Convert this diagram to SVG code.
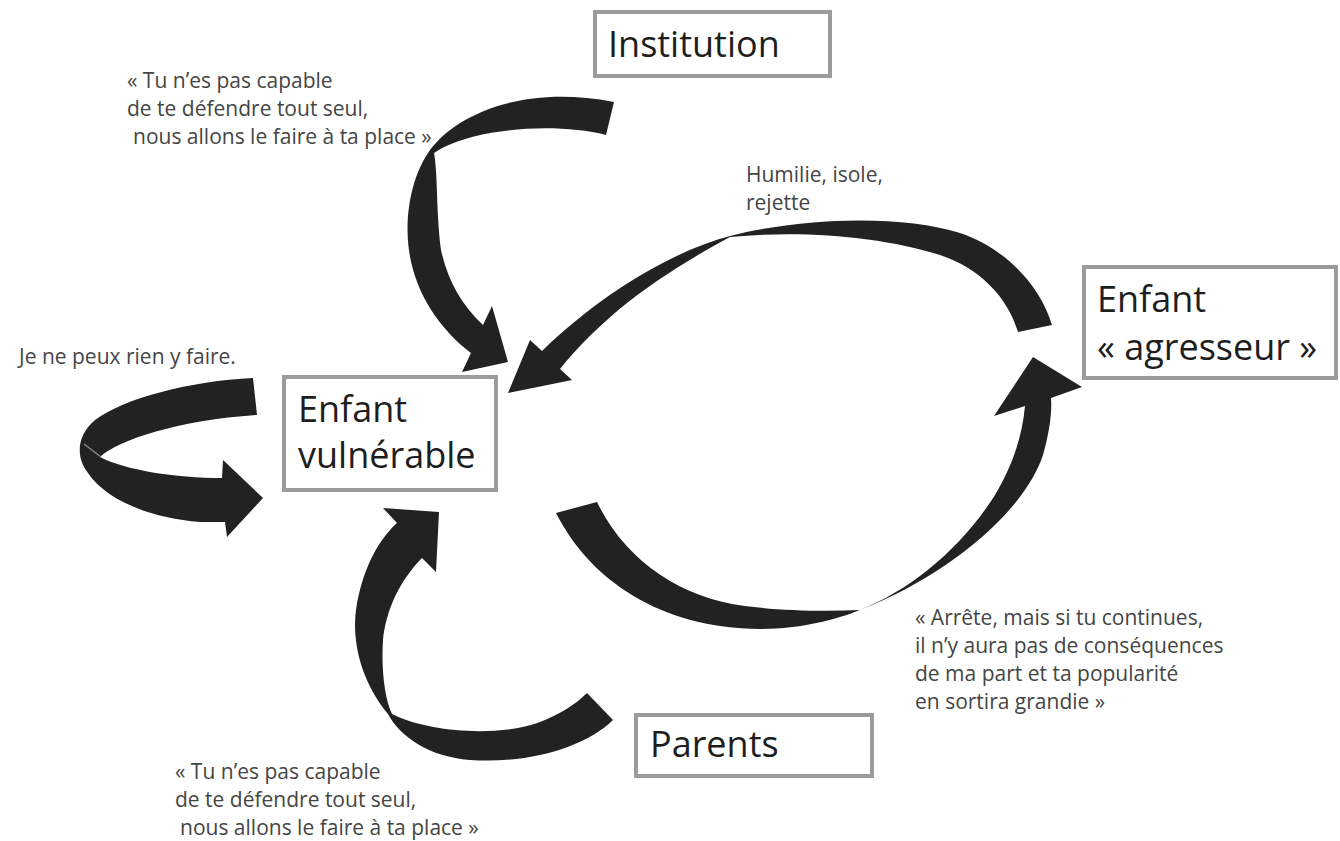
<svg xmlns="http://www.w3.org/2000/svg" width="1340" height="841" viewBox="0 0 1340 841">
<style>
.box{fill:#fff;stroke:#9b9b9b;stroke-width:4}
.lbl{font-family:"Open Sans","Noto Sans",sans-serif;font-size:36px;fill:#1e1e1e}
.q{font-family:"Open Sans","Noto Sans",sans-serif;font-size:21px;fill:#454545}
.arr{fill:#222}
</style>
<rect width="1340" height="841" fill="#fff"/>
<g id="connectors">
<path id="arrow-institution" class="arr" d="M614,102 C520,84 455,116 430,150 C412,175 404,215 409,250 C414,290 438,328 471,353 L462,372 L508,362 L492,306 L483,325 C462,305 448,282 441,250 C436,210 438,175 434,153 C470,128 555,122 606,135 Z"/>
<path id="arrow-humilie" class="arr" d="M1052,325 C1040,285 1005,248 960,233 C900,214 800,218 730,236 C670,252 600,295 542,351 L530,340 L508,393 L572,380 L560,369 C600,320 650,280 730,237 C800,230 880,236 940,255 C980,268 1008,298 1018,332 Z"/>
<path id="arrow-agresseur" class="arr" d="M556,513 C590,580 660,628 760,629 C800,629 835,620 860,610 C950,575 1025,510 1043,455 C1050,430 1052,412 1051,398 L1082,387 L1033,357 L994,416 L1025,406 C1022,440 1010,470 995,495 C960,550 910,590 860,610 C820,612 775,610 745,606 C680,598 625,560 597,502 Z"/>
<path id="arrow-parents" class="arr" d="M613,720 C585,747 530,764 470,760 C430,757 400,737 388,714 C360,680 352,640 356,610 C362,570 378,540 397,523 L383,508 L439,512 L436,572 L422,558 C400,580 386,610 383,640 C381,670 385,700 392,714 C430,733 500,737 540,722 C560,714 575,705 587,693 Z"/>
<path id="arrow-self" class="arr" d="M253,378 C190,381 125,398 95,420 C76,436 76,458 88,473 C106,500 150,518 200,522 L225,522 L227,537 L263,498 L223,460 L222,478 C175,478 125,470 100,457 C118,440 180,420 257,415 Z"/>
<path d="M84,444 L101,457" stroke="#8a8a8a" stroke-width="1.5" fill="none"/>
</g>
<g id="node-institution">
<rect class="box" x="595" y="12" width="235" height="64"/>
<text class="lbl" x="608" y="57">Institution</text>
</g>
<g id="node-agresseur">
<rect class="box" x="1084" y="267" width="252" height="111"/>
<text class="lbl" x="1097" y="312">Enfant</text>
<text class="lbl" x="1097" y="360">« agresseur »</text>
</g>
<g id="node-vulnerable">
<rect class="box" x="284" y="377" width="212" height="113"/>
<text class="lbl" x="298" y="422">Enfant</text>
<text class="lbl" x="298" y="468">vulnérable</text>
</g>
<g id="node-parents">
<rect class="box" x="636" y="715" width="236" height="61"/>
<text class="lbl" x="650" y="757">Parents</text>
</g>
<g id="labels">
<text class="q" x="127" y="88">« Tu n’es pas capable</text>
<text class="q" x="127" y="116">de te défendre tout seul,</text>
<text class="q" x="133" y="144">nous allons le faire à ta place »</text>
<text class="q" x="746" y="182">Humilie, isole,</text>
<text class="q" x="746" y="210">rejette</text>
<text class="q" x="19" y="364">Je ne peux rien y faire.</text>
<text class="q" x="915" y="625">« Arrête, mais si tu continues,</text>
<text class="q" x="915" y="653">il n’y aura pas de conséquences</text>
<text class="q" x="915" y="681">de ma part et ta popularité</text>
<text class="q" x="915" y="709">en sortira grandie »</text>
<text class="q" x="175" y="779">« Tu n’es pas capable</text>
<text class="q" x="175" y="807">de te défendre tout seul,</text>
<text class="q" x="180" y="835">nous allons le faire à ta place »</text>
</g>
</svg>
